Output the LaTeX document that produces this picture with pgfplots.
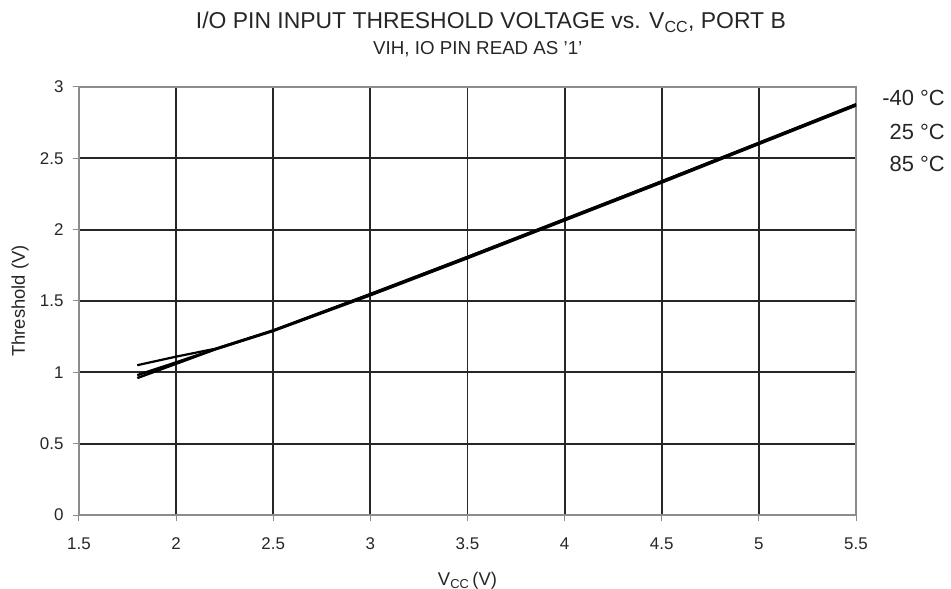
\documentclass[border=0pt]{standalone}
\usepackage{fontspec}
\setmainfont{Liberation Sans}
\usepackage{pgfplots}
\pgfplotsset{compat=1.18}
\begin{document}
\begin{tikzpicture}[x=1bp,y=1bp]
\useasboundingbox (-79bp,-74bp) rectangle (872bp,515bp);
\begin{axis}[
  at={(0,0)}, anchor=south west,
  scale only axis, width=777bp, height=428bp,
  xmin=1.5, xmax=5.5, ymin=0, ymax=3,
  xtick={1.5,2,...,5.5}, ytick={0,0.5,...,3},
  xticklabels={1.5,2,2.5,3,3.5,4,4.5,5,5.5},
  yticklabels={0,0.5,1,1.5,2,2.5,3},
  /pgf/number format/assume math mode=true,
  tick label style={font=\fontsize{17}{19}\selectfont, text=black!85},
  xticklabel style={yshift=-13bp},
  yticklabel style={xshift=-6bp},
  tick align=outside, tick pos=left,
  major tick length=6bp,
  tick style={black!45, line width=1bp},
  axis line style={black!45, line width=1.2bp},
  grid=major,
  major grid style={black!85, line width=1.8bp},
  xlabel={V\textsubscript{CC}\,(V)},
  ylabel={Threshold (V)},
  label style={font=\fontsize{18.5}{20}\selectfont, text=black!85},
  xlabel style={at={(axis description cs:0.5,-0.1636)}, anchor=base},
  ylabel style={at={(axis description cs:-0.0759,0.5)}, anchor=center},
  clip=false,
]
\addplot[black, line width=2.4bp] coordinates {
(1.8,0.96) (2.0,1.06) (2.2,1.16) (2.5,1.29) (3.0,1.54) (3.5,1.80) (4.0,2.065) (4.5,2.33) (5.0,2.60) (5.5,2.87)};
\addplot[black, line width=2.4bp] coordinates {
(1.8,0.98) (2.0,1.07) (2.2,1.162) (2.5,1.293) (3.0,1.547) (3.5,1.808) (4.0,2.072) (4.5,2.338) (5.0,2.607) (5.5,2.877)};
\addplot[black, line width=2.2bp] coordinates {
(1.8,1.05) (2.0,1.11) (2.2,1.165) (2.5,1.295) (3.0,1.55) (3.5,1.81) (4.0,2.075) (4.5,2.34) (5.0,2.61) (5.5,2.88)};
\end{axis}
\node[anchor=base east, inner sep=0pt, font=\fontsize{22}{24}\selectfont, text=black!85] at (866bp,409bp) {-40 °C};
\node[anchor=base east, inner sep=0pt, font=\fontsize{22}{24}\selectfont, text=black!85] at (866bp,375bp) {25 °C};
\node[anchor=base east, inner sep=0pt, font=\fontsize{22}{24}\selectfont, text=black!85] at (866bp,343bp) {85 °C};
\node[anchor=base east, inner sep=0pt, font=\fontsize{23}{25}\selectfont, text=black!85] at (707bp,486bp) {I/O PIN INPUT THRESHOLD VOLTAGE vs. V\textsubscript{CC}, PORT B};
\node[anchor=base west, inner sep=0pt, font=\fontsize{18.8}{20}\selectfont, text=black!85] at (294bp,460bp) {VIH, IO PIN READ AS '1'};
\end{tikzpicture}
\end{document}
